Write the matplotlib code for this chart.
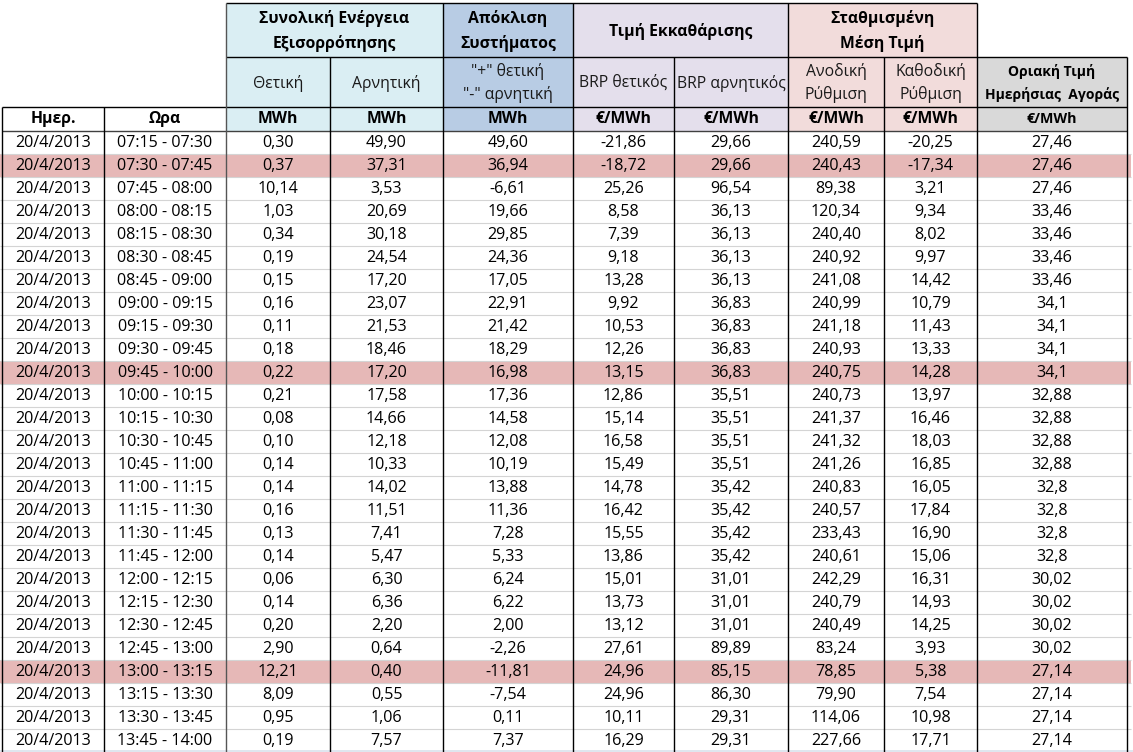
import matplotlib
matplotlib.use("Agg")
import matplotlib.pyplot as plt
from matplotlib.patches import Rectangle

plt.rcParams['font.family'] = ['Open Sans', 'Noto Sans', 'DejaVu Sans']

# ------------------------------ Datos ------------------------------
date = "20/4/2013"
times = ["07:15 - 07:30", "07:30 - 07:45", "07:45 - 08:00", "08:00 - 08:15",
         "08:15 - 08:30", "08:30 - 08:45", "08:45 - 09:00", "09:00 - 09:15",
         "09:15 - 09:30", "09:30 - 09:45", "09:45 - 10:00", "10:00 - 10:15",
         "10:15 - 10:30", "10:30 - 10:45", "10:45 - 11:00", "11:00 - 11:15",
         "11:15 - 11:30", "11:30 - 11:45", "11:45 - 12:00", "12:00 - 12:15",
         "12:15 - 12:30", "12:30 - 12:45", "12:45 - 13:00", "13:00 - 13:15",
         "13:15 - 13:30", "13:30 - 13:45", "13:45 - 14:00"]
positive = [0.30, 0.37, 10.14, 1.03, 0.34, 0.19, 0.15, 0.16, 0.11, 0.18, 0.22,
            0.21, 0.08, 0.10, 0.14, 0.14, 0.16, 0.13, 0.14, 0.06, 0.14, 0.20,
            2.90, 12.21, 8.09, 0.95, 0.19]
negative = [49.90, 37.31, 3.53, 20.69, 30.18, 24.54, 17.20, 23.07, 21.53, 18.46,
            17.20, 17.58, 14.66, 12.18, 10.33, 14.02, 11.51, 7.41, 5.47, 6.30,
            6.36, 2.20, 0.64, 0.40, 0.55, 1.06, 7.57]
deviation = [49.60, 36.94, -6.61, 19.66, 29.85, 24.36, 17.05, 22.91, 21.42, 18.29,
             16.98, 17.36, 14.58, 12.08, 10.19, 13.88, 11.36, 7.28, 5.33, 6.24,
             6.22, 2.00, -2.26, -11.81, -7.54, 0.11, 7.37]
brp_pos = [-21.86, -18.72, 25.26, 8.58, 7.39, 9.18, 13.28, 9.92, 10.53, 12.26,
           13.15, 12.86, 15.14, 16.58, 15.49, 14.78, 16.42, 15.55, 13.86, 15.01,
           13.73, 13.12, 27.61, 24.96, 24.96, 10.11, 16.29]
brp_neg = [29.66, 29.66, 96.54, 36.13, 36.13, 36.13, 36.13, 36.83, 36.83, 36.83,
           36.83, 35.51, 35.51, 35.51, 35.51, 35.42, 35.42, 35.42, 35.42, 31.01,
           31.01, 31.01, 89.89, 85.15, 86.30, 29.31, 29.31]
upward = [240.59, 240.43, 89.38, 120.34, 240.40, 240.92, 241.08, 240.99, 241.18,
          240.93, 240.75, 240.73, 241.37, 241.32, 241.26, 240.83, 240.57, 233.43,
          240.61, 242.29, 240.79, 240.49, 83.24, 78.85, 79.90, 114.06, 227.66]
downward = [-20.25, -17.34, 3.21, 9.34, 8.02, 9.97, 14.42, 10.79, 11.43, 13.33,
            14.28, 13.97, 16.46, 18.03, 16.85, 16.05, 17.84, 16.90, 15.06, 16.31,
            14.93, 14.25, 3.93, 5.38, 7.54, 10.98, 17.71]
dam_price = [27.46, 27.46, 27.46, 33.46, 33.46, 33.46, 33.46, 34.1, 34.1, 34.1,
             34.1, 32.88, 32.88, 32.88, 32.88, 32.8, 32.8, 32.8, 32.8, 30.02,
             30.02, 30.02, 30.02, 27.14, 27.14, 27.14, 27.14]
highlighted = [1, 10, 23]

group_titles = ["Συνολική Ενέργεια\nΕξισορρόπησης", "Απόκλιση\nΣυστήματος",
                "Τιμή Εκκαθάρισης", "Σταθμισμένη\nΜέση Τιμή"]
sub_titles = ["Θετική", "Αρνητική", "\"+\" θετική\n\"-\" αρνητική", "BRP θετικός",
              "BRP αρνητικός", "Ανοδική\nΡύθμιση", "Καθοδική\nΡύθμιση"]
dam_title = "Οριακή Τιμή\nΗμερήσιας  Αγοράς"
units = ["Ημερ.", "Ωρα", "MWh", "MWh", "MWh", "€/MWh", "€/MWh", "€/MWh", "€/MWh", "€/MWh"]

# ------------------------------ Diseño ------------------------------
W, H = 1133, 752
col_x = [2, 104, 226, 330, 443, 573, 674, 788, 884, 977, 1127]
hdr_y = [3, 57, 107, 131]
row_h = 23
c_blue = "#daeef3"
c_blue2 = "#b8cce4"
c_lav = "#e4dfec"
c_pink = "#f2dcdb"
c_gray = "#d9d9d9"
c_hl = "#e6b8b7"
col_fill = [None, None, c_blue, c_blue, c_blue2, c_lav, c_lav, c_pink, c_pink, c_gray]

fig = plt.figure(figsize=(W / 100, H / 100), dpi=100)
ax = fig.add_axes([0, 0, 1, 1])
ax.set_xlim(0, W)
ax.set_ylim(H, 0)
ax.axis('off')

def cell(x0, x1, y0, y1, color):
    ax.add_patch(Rectangle((x0, y0), x1 - x0, y1 - y0, facecolor=color,
                           edgecolor='none', zorder=1))

def hline(y, x0, x1, color='black', lw=1.0):
    ax.plot([x0, x1], [y, y], color=color, lw=lw, zorder=3, solid_capstyle='butt')

def vline(x, y0, y1, color='black', lw=1.0):
    ax.plot([x, x], [y0, y1], color=color, lw=lw, zorder=3, solid_capstyle='butt')

fs = 11.6     # datos
fh = 11.3     # cabecera

# header fills
for c in range(2, 9):
    cell(col_x[c], col_x[c + 1], hdr_y[0], hdr_y[2], col_fill[c])
for c in range(2, 10):
    cell(col_x[c], col_x[c + 1], hdr_y[2], hdr_y[3], col_fill[c])
cell(col_x[9], col_x[10], hdr_y[1], hdr_y[2], c_gray)

# group titles (row 0)
groups = [(2, 4), (4, 5), (5, 7), (7, 9)]
for (a, b), title in zip(groups, group_titles):
    ax.text((col_x[a] + col_x[b]) / 2, (hdr_y[0] + hdr_y[1]) / 2 + 1, title,
            ha='center', va='center', fontsize=fh, fontweight='bold',
            linespacing=1.55, zorder=4)

# sub titles (row 1)
for i, t in enumerate(sub_titles):
    c = i + 2
    ax.text((col_x[c] + col_x[c + 1]) / 2, (hdr_y[1] + hdr_y[2]) / 2 + 1, t,
            ha='center', va='center', fontsize=fh, color='#1a1a1a',
            linespacing=1.5, zorder=4)
ax.text((col_x[9] + col_x[10]) / 2, (hdr_y[1] + hdr_y[2]) / 2 + 1, dam_title,
        ha='center', va='center', fontsize=10, fontweight='bold',
        linespacing=1.65, zorder=4)

# units (row 2)
for c, u in enumerate(units):
    ax.text((col_x[c] + col_x[c + 1]) / 2, (hdr_y[2] + hdr_y[3]) / 2, u,
            ha='center', va='center', fontsize=(10.3 if c == 9 else fh),
            fontweight='bold', zorder=4)

# data rows
def fmt2(v):
    return f"{v:.2f}".replace('.', ',')

def fmtg(v):
    return f"{v:g}".replace('.', ',')

n = len(times)
for r in range(n):
    y0 = hdr_y[3] + r * row_h
    if r in highlighted:
        cell(0, col_x[10] + 4, y0, y0 + row_h, c_hl)
    vals = [date, times[r], fmt2(positive[r]), fmt2(negative[r]), fmt2(deviation[r]),
            fmt2(brp_pos[r]), fmt2(brp_neg[r]), fmt2(upward[r]), fmt2(downward[r]),
            fmtg(dam_price[r])]
    for c, v in enumerate(vals):
        ax.text((col_x[c] + col_x[c + 1]) / 2, y0 + row_h / 2 + 0.5, v,
                ha='center', va='center', fontsize=fs, zorder=4)
    if r > 0:
        hline(y0, 0, col_x[10] + 4, color='#d4d4d4', lw=0.8)

bottom = hdr_y[3] + n * row_h

# borders
hline(hdr_y[0], col_x[2], col_x[9])
hline(hdr_y[1], col_x[2], col_x[10])
hline(hdr_y[2], col_x[0], col_x[10])
hline(hdr_y[3], col_x[0], col_x[10], color='#404040')
for c in [0, 1]:
    vline(col_x[c], hdr_y[2], bottom)
vline(col_x[2], hdr_y[0], bottom, color='#555555')
for c in [4, 5, 7, 9]:
    vline(col_x[c], hdr_y[0], bottom)
for c in [3, 6, 8]:
    vline(col_x[c], hdr_y[1], bottom)
vline(col_x[10], hdr_y[1], bottom)

# sheet tab strip at bottom edge
cell(0, W, H - 2, H, "#dfe6ef")

fig.savefig("out.png", dpi=100)
